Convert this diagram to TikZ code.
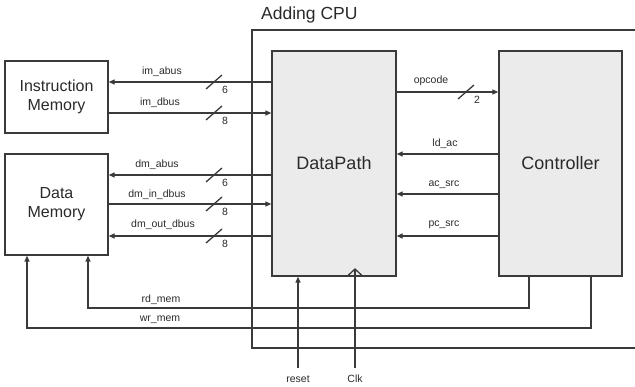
\documentclass[tikz,border=0pt]{standalone}
\usepackage{fontspec}
\setmainfont{Liberation Sans}
\usetikzlibrary{arrows.meta}
\definecolor{ln}{HTML}{3A3A3A}
\definecolor{fillg}{HTML}{EBEBEB}
\definecolor{txt}{HTML}{2A2A2A}
\newcommand\busmark[3]{%
  \draw[sig] ({#1-8},{#2+7}) -- ({#1+8},{#2-7});
  \node[lbl] at ({#1+11},{#2+8}) {#3};}
\begin{document}
\begin{tikzpicture}[x=1pt,y=-1pt,
  sig/.style={draw=ln,line width=1.3pt},
  arr/.style={sig,-{Triangle[length=6pt,width=5pt]}},
  blk/.style={draw=ln,line width=1.3pt,rectangle,inner sep=0pt,text=txt,font=\fontsize{16}{19}\selectfont,align=center},
  gblk/.style={blk,fill=fillg,font=\fontsize{18}{21}\selectfont},
  lbl/.style={text=txt,font=\fontsize{10.5}{12}\selectfont,inner sep=0pt}]
\useasboundingbox (0,0) rectangle (635,387);
% CPU frame
\draw[draw=ln,line width=1.3pt] (640,30) -- (252,30) -- (252,348) -- (640,348);
\node[text=txt,font=\fontsize{17.5}{20}\selectfont,anchor=west,inner sep=0pt] (title) at (261,15) {Adding CPU};
% blocks
\node[blk,minimum width=103pt,minimum height=72pt] (im) at (56.5,97) {Instruction\\Memory};
\node[blk,minimum width=103pt,minimum height=101pt] (dm) at (56.5,204.5) {Data\\Memory};
\node[gblk,minimum width=124pt,minimum height=225pt] (dp) at (334,163.5) {DataPath};
\node[gblk,minimum width=123pt,minimum height=225pt] (ctl) at (560.5,163.5) {Controller};
% memory buses
\draw[arr] (dp.west |- 0,82) -- (im.east |- 0,82);
\draw[arr] (im.east |- 0,113) -- (dp.west |- 0,113);
\draw[arr] (dp.west |- 0,175) -- (dm.east |- 0,175);
\draw[arr] (dm.east |- 0,204) -- (dp.west |- 0,204);
\draw[arr] (dp.west |- 0,236) -- (dm.east |- 0,236);
\node[lbl] (l1) at (162,72) {im\_abus};
\node[lbl] (l2) at (160,103) {im\_dbus};
\node[lbl] (l3) at (157,165) {dm\_abus};
\node[lbl] (l4) at (157,195) {dm\_in\_dbus};
\node[lbl] (l5) at (163,225) {dm\_out\_dbus};
\busmark{214}{82}{6}
\busmark{214}{113}{8}
\busmark{214}{175}{6}
\busmark{214}{204}{8}
\busmark{214}{236}{8}
% controller signals
\draw[arr] (dp.east |- 0,92) -- (ctl.west |- 0,92);
\node[lbl] (l6) at (431,81) {opcode};
\busmark{466}{92}{2}
\draw[arr] (ctl.west |- 0,154) -- (dp.east |- 0,154);
\draw[arr] (ctl.west |- 0,194) -- (dp.east |- 0,194);
\draw[arr] (ctl.west |- 0,236) -- (dp.east |- 0,236);
\node[lbl] (l7) at (445,144) {ld\_ac};
\node[lbl] (l8) at (444,185) {ac\_src};
\node[lbl] (l9) at (444,225) {pc\_src};
% memory control
\draw[arr] (ctl.south -| 529,0) -- (529,308) -- (88,308) -- (dm.south -| 88,0);
\draw[arr] (ctl.south -| 591,0) -- (591,328) -- (27,328) -- (dm.south -| 27,0);
\node[lbl] (l10) at (161,300) {rd\_mem};
\node[lbl] (l11) at (160,320) {wr\_mem};
% reset and clock
\coordinate (rs) at (298,368);
\coordinate (ck) at (355,368);
\draw[arr] (rs) -- (dp.south -| rs);
\draw[sig] (ck) -- (355,269);
\draw[sig] (347.5,276) -- (355,269) -- (362.5,276);
\node[lbl] (l12) at (298,379) {reset};
\node[lbl] (l13) at (355,379) {Clk};
\end{tikzpicture}
\end{document}
